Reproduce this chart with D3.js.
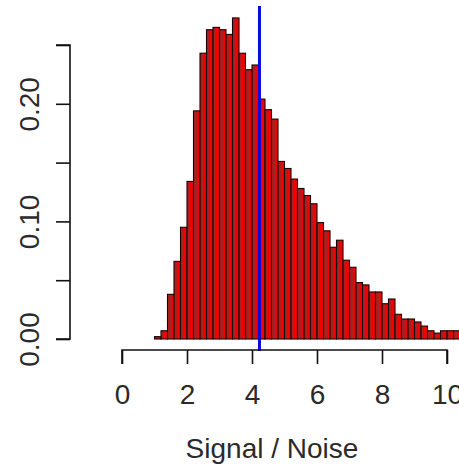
<!DOCTYPE html>
<html>
<head>
<meta charset="utf-8">
<script src="https://cdn.jsdelivr.net/npm/d3@7"></script>
<style>
  html, body { margin: 0; padding: 0; background: #fff; }
  svg { display: block; }
  text { font-family: "Liberation Sans", Arial, Helvetica, sans-serif; fill: #2a2a2a; }
</style>
</head>
<body>
<svg id="chart" width="459" height="471"></svg>
<script>
// Histogram of signal-to-noise ratios (density scale), bin width 0.2
const binEdges = [1.0, 1.2, 1.4, 1.6, 1.8, 2.0, 2.2, 2.4, 2.6, 2.8,
                  3.0, 3.2, 3.4, 3.6, 3.8, 4.0, 4.2, 4.4, 4.6, 4.8,
                  5.0, 5.2, 5.4, 5.6, 5.8, 6.0, 6.2, 6.4, 6.6, 6.8,
                  7.0, 7.2, 7.4, 7.6, 7.8, 8.0, 8.2, 8.4, 8.6, 8.8,
                  9.0, 9.2, 9.4, 9.6, 9.8, 10.0, 10.2, 10.4];
const density = [0.002, 0.007, 0.038, 0.066, 0.095, 0.134, 0.194, 0.243, 0.263, 0.265,
                 0.263, 0.259, 0.273, 0.243, 0.229, 0.233, 0.204, 0.195, 0.187, 0.151,
                 0.145, 0.136, 0.128, 0.122, 0.115, 0.099, 0.092, 0.078, 0.084, 0.067,
                 0.061, 0.048, 0.046, 0.040, 0.040, 0.030, 0.034, 0.021, 0.017, 0.017,
                 0.0145, 0.011, 0.007, 0.005, 0.007, 0.007, 0.007];
const meanValue = 4.23;           // vertical reference line
const xTicks = [0, 2, 4, 6, 8, 10];
const yTicks = [0, 0.05, 0.10, 0.15, 0.20, 0.25];
const yTickLabels = ["0.00", "", "0.10", "", "0.20", ""];
const xTitle = "Signal / Noise";

const svg = d3.select("#chart");
const x = d3.scaleLinear().domain([0, 10]).range([122, 447]);
const y = d3.scaleLinear().domain([0, 0.25]).range([339, 45]);

// two-tone bar fill
const grad = svg.append("defs").append("linearGradient")
  .attr("id", "barFill").attr("x1", 0).attr("x2", 1).attr("y1", 0).attr("y2", 0);
[[0, "#a82020"], [0.52, "#a82020"], [0.52, "#f50000"], [1, "#f50000"]].forEach(([o, c]) =>
  grad.append("stop").attr("offset", o).attr("stop-color", c));

const bins = density.map((d, i) => ({ x0: binEdges[i], x1: binEdges[i + 1], d }));

svg.append("g").selectAll("rect").data(bins).join("rect")
  .attr("x", b => x(b.x0))
  .attr("width", b => x(b.x1) - x(b.x0))
  .attr("y", b => y(b.d))
  .attr("height", b => y(0) - y(b.d))
  .attr("fill", "url(#barFill)")
  .attr("stroke", "#1a0000")
  .attr("stroke-width", 1.1);

// vertical line at the mean
svg.append("line")
  .attr("x1", x(meanValue)).attr("x2", x(meanValue))
  .attr("y1", 6).attr("y2", 351)
  .attr("stroke", "#0a0adc").attr("stroke-width", 3);

// x axis
const xAxis = d3.axisBottom(x).tickValues(xTicks).tickSize(14).tickPadding(20).tickFormat(d3.format("d"));
const gx = svg.append("g").attr("transform", "translate(0,350)").call(xAxis);
gx.select(".domain").attr("stroke", "#111").attr("stroke-width", 1.6)
  .attr("d", `M${x(0)},14V0H${x(10)}V14`);
gx.selectAll(".tick line").attr("stroke", "#111").attr("stroke-width", 1.6);
gx.selectAll(".tick text").attr("font-size", 28).attr("font-family", "Liberation Sans, Arial, sans-serif").attr("fill", "#2a2a2a");

// y axis
const yAxis = d3.axisLeft(y).tickValues(yTicks).tickSize(14).tickFormat((d, i) => yTickLabels[i]);
const gy = svg.append("g").attr("transform", "translate(70,0)").call(yAxis);
gy.select(".domain").attr("stroke", "#111").attr("stroke-width", 1.6)
  .attr("d", `M-14,${y(0.25)}H0V${y(0)}H-14`);
gy.selectAll(".tick line").attr("stroke", "#111").attr("stroke-width", 1.6);
gy.selectAll(".tick text")
  .attr("font-size", 28).attr("font-family", "Liberation Sans, Arial, sans-serif").attr("fill", "#2a2a2a")
  .attr("x", null).attr("dy", null)
  .attr("text-anchor", "middle")
  .attr("transform", "translate(-31,0) rotate(-90)");

// axis title
svg.append("text")
  .attr("x", 272).attr("y", 458)
  .attr("text-anchor", "middle")
  .attr("font-size", 28)
  .text(xTitle);
</script>
</body>
</html>
